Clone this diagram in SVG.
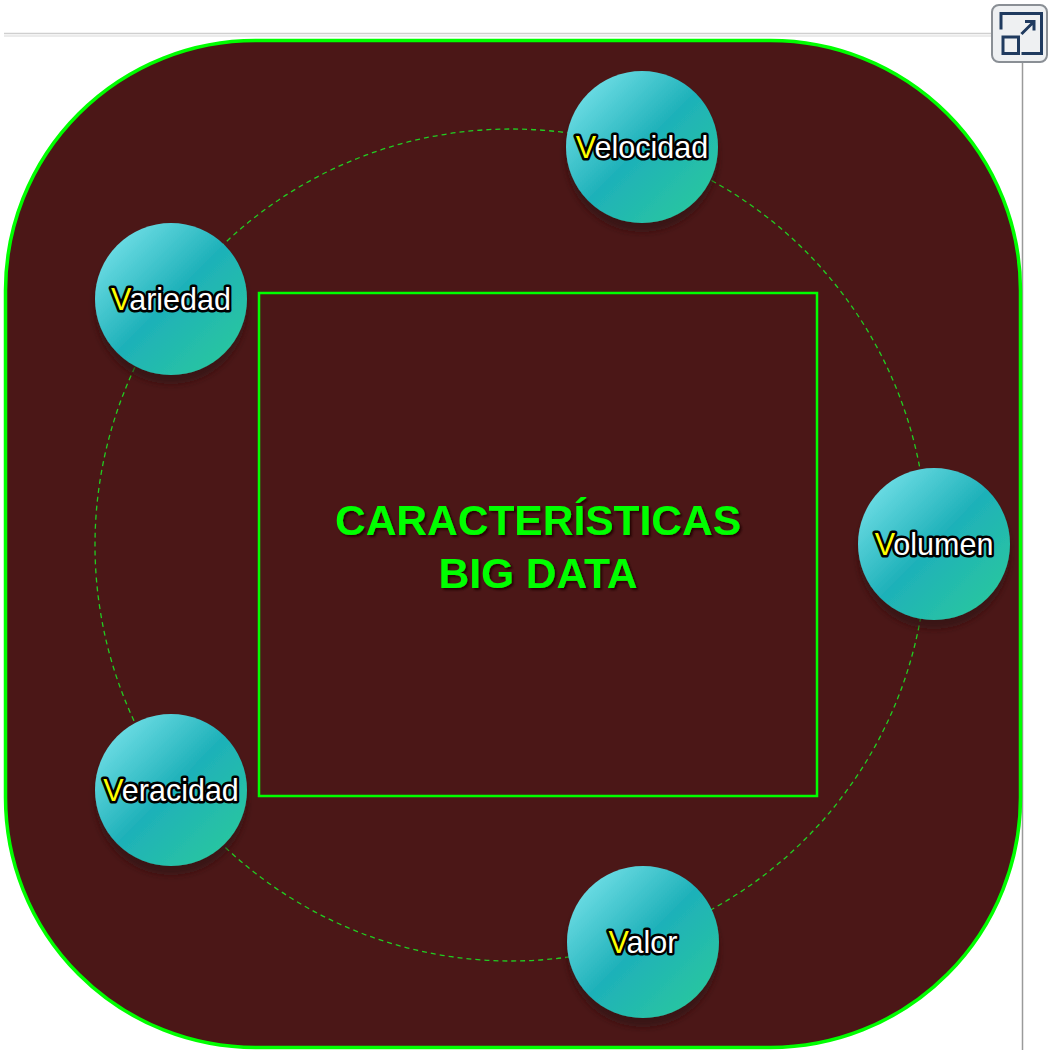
<svg xmlns="http://www.w3.org/2000/svg" width="1051" height="1050" viewBox="0 0 1051 1050">
  <defs>
    <linearGradient id="nodeGrad" x1="0" y1="0" x2="1" y2="1">
      <stop offset="0" stop-color="#86eaf2"/>
      <stop offset="0.5" stop-color="#1eb1b9"/>
      <stop offset="1" stop-color="#2dcc98"/>
    </linearGradient>
    <filter id="nodeShadow" x="-30%" y="-30%" width="160%" height="170%">
      <feDropShadow dx="0" dy="9" stdDeviation="3" flood-color="#2a0808" flood-opacity="0.6"/>
    </filter>
    <filter id="titleShadow" x="-10%" y="-30%" width="120%" height="160%">
      <feDropShadow dx="2" dy="2" stdDeviation="1" flood-color="#1a0303" flood-opacity="0.9"/>
    </filter>
  </defs>
  <style>
    .frame { fill: #4b1717; stroke: #00ff00; stroke-width: 3.5; }
    .inner { fill: none; stroke: #00ff00; stroke-width: 2.5; }
    .orbit { fill: none; stroke: #22cc22; stroke-width: 1.3; stroke-dasharray: 5 4; }
    .node { fill: url(#nodeGrad); filter: url(#nodeShadow); }
    .lbl { font-family: "Liberation Sans", Arial, sans-serif; font-size: 30.5px; fill: #ffffff; stroke: #000000; stroke-width: 5; stroke-linejoin: round; paint-order: stroke; text-anchor: middle; }
    .v { fill: #ffff00; }
    .title { font-family: "Liberation Sans", Arial, sans-serif; font-weight: bold; font-size: 42.5px; fill: #00ff00; text-anchor: middle; filter: url(#titleShadow); }
    .ui { fill: none; stroke: #1f3a5f; stroke-width: 3; stroke-linecap: square; }
  </style>

  <rect x="0" y="0" width="1051" height="1050" fill="#ffffff"/>

  <!-- page chrome -->
  <g id="chrome">
    <line x1="4" y1="33.5" x2="991" y2="33.5" stroke="#cfcfcf" stroke-width="1.5"/>
    <line x1="4" y1="36" x2="991" y2="36" stroke="#e4e4e4" stroke-width="1.5"/>
    <line x1="1022.5" y1="63" x2="1022.5" y2="1050" stroke="#9a9a9a" stroke-width="1.5"/>
    <rect x="992" y="5" width="55" height="57" rx="7" fill="#eef0f2" stroke="#8a8f95" stroke-width="2"/>
    <path class="ui" d="M1001 28 V13.5 H1041.5 V53.5 H1023"/>
    <rect class="ui" x="1003" y="37" width="15.5" height="16.5"/>
    <path class="ui" d="M1022.5 33 L1033.5 22 M1026.5 21.5 H1034 V29"/>
  </g>

  <!-- main frame -->
  <g id="frame">
    <rect class="frame" x="5.5" y="40.5" width="1015" height="1007" rx="250" ry="250"/>
  </g>

  <!-- connectors -->
  <g id="connectors">
    <circle class="orbit" cx="511" cy="545" r="416"/>
  </g>

  <g id="center">
    <rect class="inner" x="259" y="293" width="558" height="503"/>
    <text class="title" x="538" y="535">CARACTERÍSTICAS</text>
    <text class="title" x="538" y="588">BIG DATA</text>
  </g>

  <g id="velocidad">
    <circle class="node" cx="642" cy="147" r="76"/>
    <text class="lbl" x="642" y="158"><tspan class="v">V</tspan>elocidad</text>
  </g>
  <g id="variedad">
    <circle class="node" cx="171" cy="299" r="76"/>
    <text class="lbl" x="171" y="310"><tspan class="v">V</tspan>ariedad</text>
  </g>
  <g id="volumen">
    <circle class="node" cx="934" cy="544" r="76"/>
    <text class="lbl" x="934" y="555"><tspan class="v">V</tspan>olumen</text>
  </g>
  <g id="veracidad">
    <circle class="node" cx="171" cy="790" r="76"/>
    <text class="lbl" x="171" y="801"><tspan class="v">V</tspan>eracidad</text>
  </g>
  <g id="valor">
    <circle class="node" cx="643" cy="942" r="76"/>
    <text class="lbl" x="643" y="953"><tspan class="v">V</tspan>alor</text>
  </g>
</svg>
